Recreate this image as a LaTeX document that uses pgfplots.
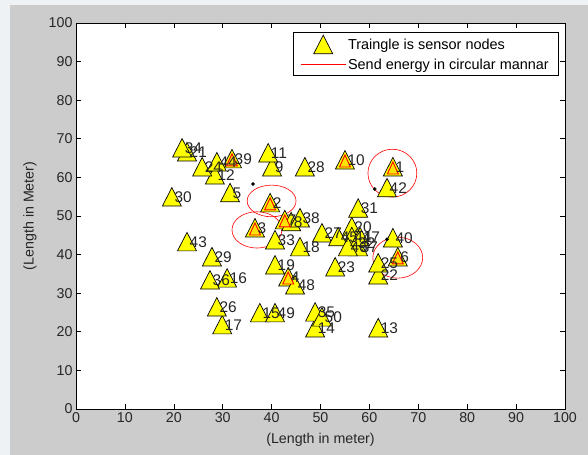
\documentclass[border=0pt]{standalone}
\usepackage{pgfplots}
\usepackage{pgfplotstable}
\pgfplotsset{compat=1.18}
\usepackage{fontspec}
\setmainfont{Liberation Sans}
\definecolor{figgray}{RGB}{204,204,204}
\definecolor{edgewhite}{RGB}{238,242,244}
\definecolor{nodeyellow}{RGB}{255,255,0}
\pgfdeclareplotmark{mtri}{%
  \pgfpathmoveto{\pgfqpoint{0bp}{9.5bp}}%
  \pgfpathlineto{\pgfqpoint{9.5bp}{-9bp}}%
  \pgfpathlineto{\pgfqpoint{-9.5bp}{-9bp}}%
  \pgfpathclose\pgfusepathqfillstroke}
\pgfdeclareplotmark{rtri}{%
  \pgfpathmoveto{\pgfqpoint{0bp}{5bp}}%
  \pgfpathlineto{\pgfqpoint{5.5bp}{-7bp}}%
  \pgfpathlineto{\pgfqpoint{-5.5bp}{-7bp}}%
  \pgfpathclose\pgfusepathqfillstroke}

\pgfplotstableread{
x y lab
64.8 62.7 1
39.7 53.4 2
36.6 46.9 3
43.4 34.2 4
31.5 56.0 5
65.8 39.4 6
42.7 49.0 7
44.0 48.5 8
40.1 62.7 9
55.0 64.5 10
39.3 66.3 11
28.4 60.6 12
61.8 21.0 13
48.9 21.0 14
37.6 24.9 15
30.9 33.9 16
29.9 21.8 17
45.8 42.0 18
40.7 37.3 19
56.4 47.2 20
22.7 66.6 21
61.8 34.7 22
53.0 36.8 23
25.8 62.7 24
61.8 37.8 25
28.8 26.4 26
50.3 45.6 27
46.8 62.7 28
27.8 39.4 29
19.6 54.9 30
57.7 52.0 31
57.1 43.0 32
40.7 43.8 33
21.7 67.6 34
48.9 25.1 35
27.4 33.4 36
57.7 42.0 37
45.8 49.5 38
31.9 64.8 39
64.8 44.3 40
56.4 44.6 41
63.6 57.3 42
22.7 43.3 43
28.8 64.0 44
53.6 44.6 45
55.6 42.0 46
58.1 44.6 47
44.8 32.1 48
40.7 24.9 49
50.3 23.8 50
}\nodetab

\pgfplotstableread{
x y
64.8 62.7
39.7 53.4
36.6 46.9
43.4 34.2
65.8 39.4
42.7 49.0
55.0 64.5
31.9 64.8
}\redtab

\pgfplotstableread{
x y
36.2 58.3
61.1 57.0
63.6 44.0
}\dottab

\begin{document}
\begin{tikzpicture}
\fill[edgewhite] (-76bp,-46bp) rectangle (512bp,409bp);
\fill[figgray] (-66bp,-46bp) rectangle (512bp,404bp);
\begin{axis}[
  at={(0bp,0bp)}, anchor=south west,
  scale only axis, width=489bp, height=386bp,
  xmin=0, xmax=100, ymin=0, ymax=100,
  xtick={0,10,...,100}, ytick={0,10,...,100},
  tick align=inside,
  major tick length=5bp,
  axis line style={line width=0.9bp, black},
  tick style={line width=0.6bp, black},
  axis background/.style={fill=white},
  /pgf/number format/assume math mode=true,
  ticklabel style={font=\fontsize{14.3}{17}\selectfont, text=black!85},
  label style={font=\fontsize{14.3}{17}\selectfont, text=black!85},
  xlabel={(Length in meter)}, ylabel={(Length in Meter)},
  xlabel style={at={(axis description cs:0.5,-0.08)}, anchor=center},
  ylabel style={at={(axis description cs:-0.094,0.5)}, anchor=center},
  legend style={at={(1,1)}, anchor=north east, xshift=-7bp, yshift=-9bp,
    font=\fontsize{14.5}{17}\selectfont, draw=black, fill=white,
    inner xsep=7bp, inner ysep=3bp, row sep=3bp},
  legend cell align=left,
  legend image code/.code={\draw[mark repeat=2,mark phase=2,#1] plot coordinates {(0bp,0bp) (22.5bp,0bp) (45bp,0bp)};},
]
\addplot[only marks, mark=mtri, mark options={fill=nodeyellow, draw=black, line width=0.7bp}] table[x=x,y=y] {\nodetab};
\addlegendentry{Traingle is sensor nodes}
\addlegendimage{draw=red, color=red, line width=0.7bp}
\addlegendentry{Send energy in circular mannar}
\addplot[forget plot, only marks, mark=rtri, mark options={fill=nodeyellow!80!orange, draw=red, line width=0.9bp}] table[x=x,y=y] {\redtab};
\addplot[forget plot, only marks, mark=*, mark size=1.6bp, mark options={fill=black, draw=black}] table[x=x,y=y] {\dottab};
\addplot[forget plot, only marks, mark=none, nodes near coords, point meta=explicit symbolic,
  nodes near coords align={anchor=west},
  every node near coord/.append style={inner sep=0pt, xshift=2.5bp, font=\fontsize{15.5}{18}\selectfont, text=black!85}]
  table[x=x,y=y,meta=lab] {\nodetab};
\draw[red, line width=0.6bp] (axis cs:64.7,61.1) ellipse [x radius=5.0, y radius=6.2];
\draw[red, line width=0.6bp] (axis cs:40.0,53.9) ellipse [x radius=5.0, y radius=4.1];
\draw[red, line width=0.6bp] (axis cs:37.0,46.4) ellipse [x radius=5.1, y radius=4.7];
\draw[red, line width=0.6bp] (axis cs:65.8,39.2) ellipse [x radius=5.1, y radius=5.3];
\end{axis}
\end{tikzpicture}
\end{document}
